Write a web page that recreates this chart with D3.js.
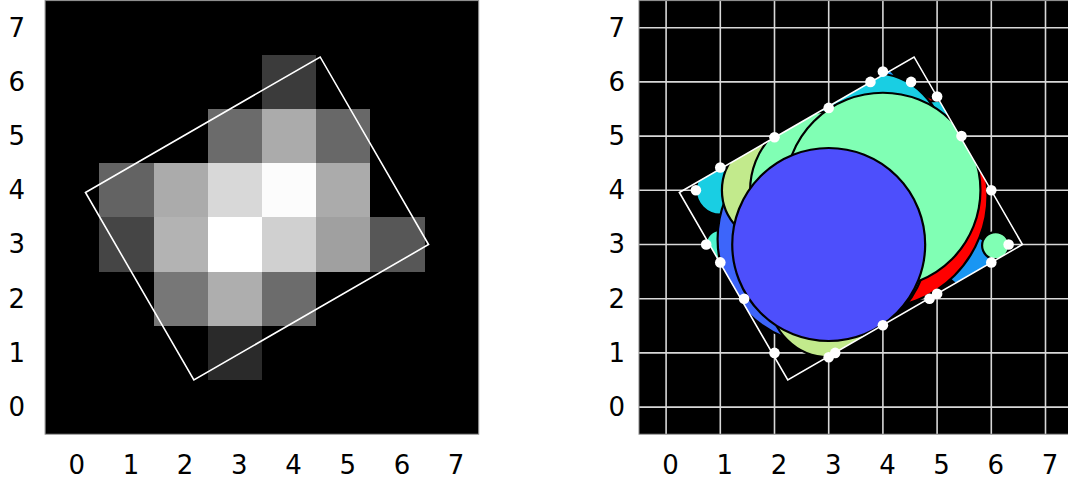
<!DOCTYPE html>
<html>
<head>
<meta charset="utf-8">
<script src="https://cdn.jsdelivr.net/npm/d3@7"></script>
<style>
  body { margin: 0; background: #fff; }
  svg { display: block; }
  text { font-family: "DejaVu Sans", sans-serif; }
</style>
</head>
<body>
<svg id="chart" width="1068" height="487"></svg>
<script>
// Pixel intensities (0-255); row index = y (0 at bottom), column index = x
const intensityRows = [
  [0, 0, 0, 0, 0, 0, 0, 0],
  [0, 0, 0, 42, 0, 0, 0, 0],
  [0, 0, 119, 174, 108, 0, 0, 0],
  [0, 69, 179, 255, 208, 160, 87, 0],
  [0, 99, 171, 216, 252, 171, 0, 0],
  [0, 0, 0, 107, 171, 104, 0, 0],
  [0, 0, 0, 0, 59, 0, 0, 0],
  [0, 0, 0, 0, 0, 0, 0, 0]
];
const tickValues = [0, 1, 2, 3, 4, 5, 6, 7];

// Rotated 5 x 4 box (corner points, data units)
const boxX = [0.245, 4.575, 6.575, 2.245];
const boxY = [3.96, 6.46, 3.0, 0.5];

// Disks, listed bottom to top: centre, radius (data units), colormap tone
const diskX    = [5.6, 6.08, 1.0, 1.0, 4.0, 3.85, 2.9, 2.0, 3.0, 5.0, 3.82, 3.0, 4.0, 3.0];
const diskY    = [2.68, 2.98, 3.0, 4.0, 6.0, 3.9, 3.1, 4.0, 2.0, 5.0, 4.86, 4.0, 4.0, 3.0];
const diskR    = [0.48, 0.25, 0.27, 0.45, 0.25, 2.08, 1.95, 0.97, 1.08, 0.65, 1.3, 1.45, 1.8, 1.78];
const diskTone = [0.2, 0.5, 0.4, 0.3, 0.2, 1.0, 0.13, 0.63, 0.63, 0.3, 0.3, 0.5, 0.5, 0.1];

// Boundary samples where the covered region meets the grid lines
const markX = [4.0, 3.77, 4.52, 5.0, 3.0, 5.45, 2.0, 1.0, 0.55, 6.0, 0.74, 6.32, 1.0, 6.0, 1.44, 5.0, 4.86, 4.0, 2.0, 3.12, 3.0];
const markY = [6.19, 6.0, 6.0, 5.73, 5.52, 5.0, 4.98, 4.42, 4.0, 4.0, 3.0, 3.0, 2.67, 2.67, 2.0, 2.09, 2.0, 1.51, 1.0, 1.0, 0.92];

// matplotlib-style "rainbow" colormap
function rainbow(t) {
  const c = v => Math.round(255 * Math.max(0, Math.min(1, v)));
  return d3.rgb(c(Math.abs(2 * t - 0.5)), c(Math.sin(Math.PI * t)), c(Math.cos(Math.PI * t / 2))).formatHex();
}

const svg = d3.select("#chart");
const unit = 54.2;
const topY = 0.6, side = 8 * unit;
const domain = [-0.5, 7.5];
const y = d3.scaleLinear(domain, [topY + side, topY]);
const panels = [
  { x: d3.scaleLinear(domain, [45.1, 45.1 + side]), id: "left", yPad: 20 },
  { x: d3.scaleLinear(domain, [639.0, 639.0 + side]), id: "right", yPad: 14 }
];

const defs = svg.append("defs");

panels.forEach(p => {
  const x = p.x;
  const x0 = x.range()[0];
  defs.append("clipPath").attr("id", "area-" + p.id)
    .append("rect").attr("x", x0).attr("y", topY).attr("width", side).attr("height", side);

  const g = svg.append("g").attr("clip-path", `url(#area-${p.id})`);
  g.append("rect").attr("x", x0).attr("y", topY).attr("width", side).attr("height", side).attr("fill", "#000");

  const boxPts = boxX.map((bx, i) => [x(bx), y(boxY[i])]);

  if (p.id === "left") {
    // grayscale pixels
    const cells = [];
    intensityRows.forEach((row, j) => row.forEach((v, i) => cells.push({ i, j, v })));
    g.selectAll("rect.px").data(cells.filter(c => c.v > 0)).join("rect")
      .attr("class", "px")
      .attr("x", d => x(d.i - 0.5)).attr("y", d => y(d.j + 0.5))
      .attr("width", d => x(d.i + 0.5) - x(d.i - 0.5))
      .attr("height", d => y(d.j - 0.5) - y(d.j + 0.5))
      .attr("fill", d => d3.rgb(d.v, d.v, d.v).formatHex())
      .attr("shape-rendering", "crispEdges");
  } else {
    // grid
    g.selectAll("line.gx").data(tickValues).join("line").attr("class", "gx")
      .attr("x1", d => x(d)).attr("x2", d => x(d)).attr("y1", topY).attr("y2", topY + side)
      .attr("stroke", "#d8d8d8").attr("stroke-width", 1.6);
    g.selectAll("line.gy").data(tickValues).join("line").attr("class", "gy")
      .attr("y1", d => y(d)).attr("y2", d => y(d)).attr("x1", x0).attr("x2", x0 + side)
      .attr("stroke", "#d8d8d8").attr("stroke-width", 1.6);

    defs.append("clipPath").attr("id", "box-clip")
      .append("polygon").attr("points", boxPts.map(q => q.join(",")).join(" "));

    const disks = diskX.map((cx, i) => ({ cx, cy: diskY[i], r: diskR[i], t: diskTone[i] }));
    g.append("g").attr("clip-path", "url(#box-clip)")
      .selectAll("circle").data(disks).join("circle")
      .attr("cx", d => x(d.cx)).attr("cy", d => y(d.cy))
      .attr("r", d => x(d.r) - x(0))
      .attr("fill", d => rainbow(d.t))
      .attr("stroke", "#000").attr("stroke-width", 2.2);
  }

  g.append("polygon").attr("points", boxPts.map(q => q.join(",")).join(" "))
    .attr("fill", "none").attr("stroke", "#fff").attr("stroke-width", 1.6);

  if (p.id === "right") {
    const marks = markX.map((mx, i) => ({ mx, my: markY[i] }));
    g.selectAll("circle.mark").data(marks).join("circle").attr("class", "mark")
      .attr("cx", d => x(d.mx)).attr("cy", d => y(d.my)).attr("r", 5.3).attr("fill", "#fff");
  }

  // frame
  svg.append("rect").attr("x", x0).attr("y", topY).attr("width", side).attr("height", side)
    .attr("fill", "none").attr("stroke", "#888").attr("stroke-width", 1);

  // axes
  const ax = svg.append("g").attr("transform", `translate(0,${topY + side})`)
    .call(d3.axisBottom(x).tickValues(tickValues).tickSize(0).tickPadding(21).tickFormat(d3.format("d")));
  ax.selectAll(".tick text").attr("x", 4);
  const ay = svg.append("g").attr("transform", `translate(${x0},0)`)
    .call(d3.axisLeft(y).tickValues(tickValues).tickSize(0).tickPadding(p.yPad).tickFormat(d3.format("d")));
  [ax, ay].forEach(a => {
    a.select(".domain").remove();
    a.selectAll("text").attr("font-size", 26).attr("fill", "#000").attr("font-family", "DejaVu Sans");
  });
});
</script>
</body>
</html>
